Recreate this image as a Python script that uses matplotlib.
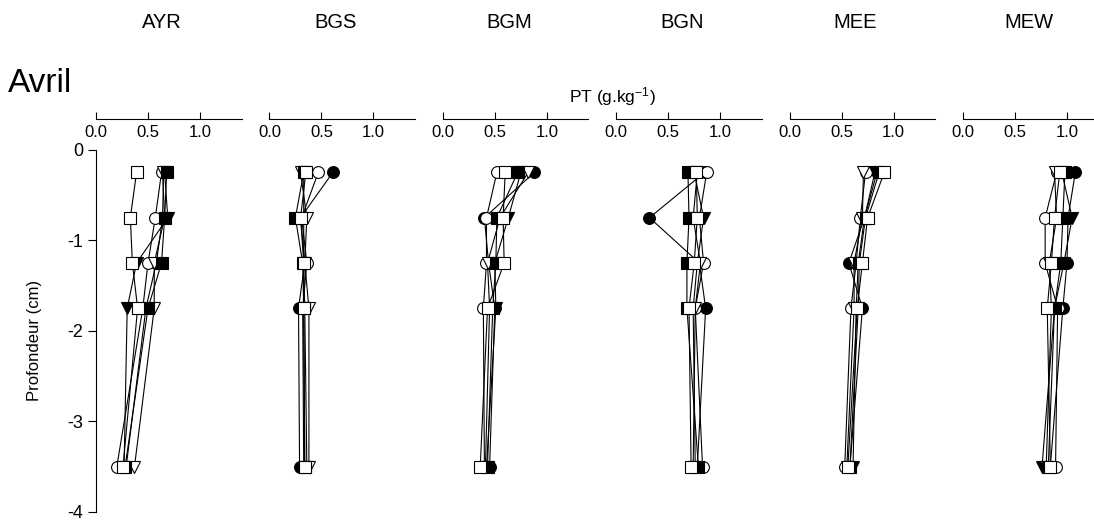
import numpy as np
from matplotlib import pyplot as plt

plt.rcParams['font.family'] = ['Liberation Sans', 'DejaVu Sans']
plt.rcParams['axes.unicode_minus'] = False
plt.rcParams['mathtext.default'] = 'regular'

# depth of each sampled layer (cm)
depths = [-0.25, -0.75, -1.25, -1.75, -3.5]
sites = ['AYR', 'BGS', 'BGM', 'BGN', 'MEE', 'MEW']

# PT (g/kg) per site, one list per series (filled/open circle, triangle, square)
ayr = {
    'filled_circle': [0.65, 0.64, 0.58, 0.48, 0.29],
    'open_circle': [0.63, 0.57, 0.50, 0.45, 0.20],
    'filled_tri': [0.66, 0.69, 0.39, 0.30, 0.27],
    'open_tri': [0.64, 0.66, 0.56, 0.56, 0.37],
    'filled_sq': [0.68, 0.66, 0.63, 0.50, 0.28],
    'open_sq': [0.39, 0.33, 0.35, 0.40, 0.26],
}
bgs = {
    'filled_circle': [0.61, 0.30, 0.34, 0.28, 0.29],
    'open_circle': [0.47, 0.31, 0.36, 0.32, 0.33],
    'filled_tri': [0.33, 0.33, 0.33, 0.34, 0.36],
    'open_tri': [0.30, 0.36, 0.34, 0.38, 0.38],
    'filled_sq': [0.33, 0.25, 0.32, 0.33, 0.34],
    'open_sq': [0.35, 0.30, 0.33, 0.33, 0.34],
}
bgm = {
    'filled_circle': [0.88, 0.40, 0.44, 0.50, 0.45],
    'open_circle': [0.52, 0.42, 0.42, 0.39, 0.40],
    'filled_tri': [0.75, 0.63, 0.50, 0.51, 0.42],
    'open_tri': [0.82, 0.55, 0.43, 0.45, 0.41],
    'filled_sq': [0.72, 0.52, 0.51, 0.48, 0.43],
    'open_sq': [0.60, 0.58, 0.59, 0.43, 0.36],
}
bgn = {
    'filled_circle': [0.85, 0.32, 0.80, 0.86, 0.78],
    'open_circle': [0.87, 0.80, 0.84, 0.76, 0.83],
    'filled_tri': [0.75, 0.84, 0.78, 0.74, 0.76],
    'open_tri': [0.78, 0.74, 0.81, 0.76, 0.74],
    'filled_sq': [0.69, 0.70, 0.68, 0.68, 0.79],
    'open_sq': [0.77, 0.78, 0.75, 0.70, 0.72],
}
mee = {
    'filled_circle': [0.84, 0.72, 0.57, 0.70, 0.58],
    'open_circle': [0.73, 0.68, 0.64, 0.59, 0.53],
    'filled_tri': [0.82, 0.72, 0.66, 0.64, 0.61],
    'open_tri': [0.71, 0.70, 0.62, 0.62, 0.55],
    'filled_sq': [0.86, 0.73, 0.67, 0.66, 0.58],
    'open_sq': [0.91, 0.75, 0.70, 0.65, 0.56],
}
mew = {
    'filled_circle': [1.08, 1.01, 1.00, 0.96, 0.84],
    'open_circle': [0.90, 0.79, 0.79, 0.91, 0.89],
    'filled_tri': [0.95, 1.05, 0.97, 0.88, 0.76],
    'open_tri': [0.88, 0.90, 0.83, 0.85, 0.80],
    'filled_sq': [0.98, 0.96, 0.94, 0.88, 0.82],
    'open_sq': [0.93, 0.88, 0.85, 0.81, 0.84],
}
site_data = [ayr, bgs, bgm, bgn, mee, mew]

styles = {
    'filled_circle': ('o', 'black'),
    'open_circle': ('o', 'white'),
    'filled_tri': ('v', 'black'),
    'open_tri': ('v', 'white'),
    'filled_sq': ('s', 'black'),
    'open_sq': ('s', 'white'),
}

W, H = 1094, 522
fig = plt.figure(figsize=(W / 100, H / 100), dpi=100)

x_top = 0.34  # axis line sits above depth 0
for k, (site, data) in enumerate(zip(sites, site_data)):
    left = 96 + k * 173.4
    ax = fig.add_axes([left / W, 10 / H, 145.6 / W, 393 / H])
    for name, vals in data.items():
        m, fc = styles[name]
        ax.plot(vals, depths, color='black', lw=0.8, marker=m, markersize=8.5,
                markerfacecolor=fc, markeredgecolor='black', markeredgewidth=0.8,
                clip_on=False)
    ax.set_xlim(0, 1.4)
    ax.set_ylim(-4, x_top)
    ax.spines['top'].set_visible(False)
    ax.spines['right'].set_visible(False)
    ax.spines['bottom'].set_position(('data', x_top))
    ax.spines['bottom'].set_linewidth(0.8)
    ax.set_xticks([0, 0.5, 1.0])
    ax.set_xticklabels(['0.0', '0.5', '1.0'])
    ax.tick_params(axis='x', direction='in', length=5, width=0.8, labelsize=12, pad=4)
    if k == 0:
        ax.spines['left'].set_bounds(-4, 0)
        ax.spines['left'].set_linewidth(0.8)
        ax.set_yticks([0, -1, -2, -3, -4])
        ax.set_yticklabels(['0', '-1', '-2', '-3', '-4'])
        ax.tick_params(axis='y', direction='out', length=6, width=0.8, labelsize=13, pad=3)
    else:
        ax.spines['left'].set_visible(False)
        ax.set_yticks([])
    fig.text((left + 66) / W, 1 - 23 / H, site, ha='center', va='center', fontsize=14.5)

fig.text(8 / W, 1 - 84 / H, 'Avril', ha='left', va='center', fontsize=24)
fig.text(612 / W, 1 - 97 / H, 'PT (g.kg$^{-1}$)', ha='center', va='center', fontsize=12.5)
fig.text(35 / W, 1 - 340 / H, 'Profondeur (cm)', ha='center', va='center',
         rotation=90, fontsize=12)

fig.savefig('out.png', dpi=100)
